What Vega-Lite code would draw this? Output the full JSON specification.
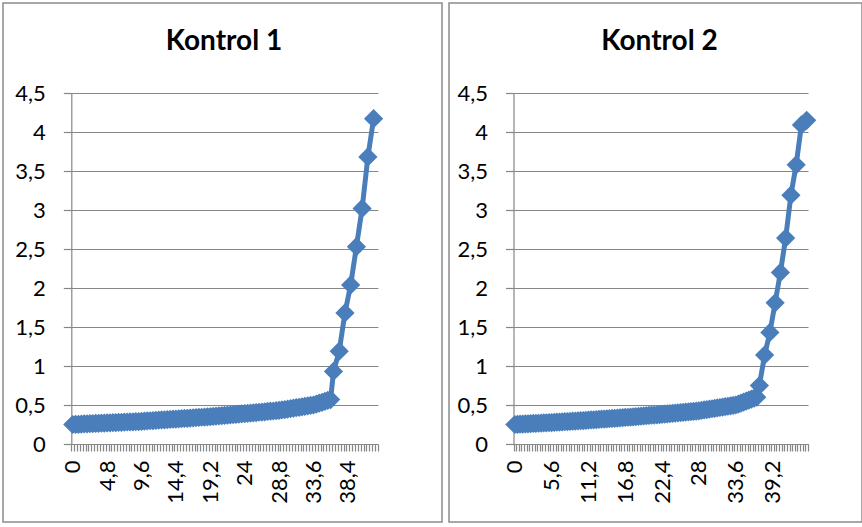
{
  "$schema": "https://vega.github.io/schema/vega-lite/v6.json",
  "background": "white",
  "padding": {"left": 2, "top": 2, "right": 0, "bottom": 0},
  "autosize": {"type": "pad"},
  "spacing": 5,
  "datasets": {
    "k1": [
      {"t":0,"v":0.25},{"t":0.4,"v":0.252},{"t":0.8,"v":0.253},{"t":1.2,"v":0.255},{"t":1.6,"v":0.257},{"t":2,"v":0.258},{"t":2.4,"v":0.26},{"t":2.8,"v":0.262},{"t":3.2,"v":0.263},{"t":3.6,"v":0.265},{"t":4,"v":0.267},{"t":4.4,"v":0.268},{"t":4.8,"v":0.27},
      {"t":5.2,"v":0.272},{"t":5.6,"v":0.273},{"t":6,"v":0.275},{"t":6.4,"v":0.277},{"t":6.8,"v":0.278},{"t":7.2,"v":0.28},{"t":7.6,"v":0.282},{"t":8,"v":0.283},{"t":8.4,"v":0.285},{"t":8.8,"v":0.287},{"t":9.2,"v":0.288},{"t":9.6,"v":0.29},
      {"t":10,"v":0.293},{"t":10.4,"v":0.295},{"t":10.8,"v":0.298},{"t":11.2,"v":0.3},{"t":11.6,"v":0.303},{"t":12,"v":0.305},{"t":12.4,"v":0.308},{"t":12.8,"v":0.31},{"t":13.2,"v":0.313},{"t":13.6,"v":0.315},{"t":14,"v":0.318},{"t":14.4,"v":0.32},
      {"t":14.8,"v":0.323},{"t":15.2,"v":0.325},{"t":15.6,"v":0.328},{"t":16,"v":0.33},{"t":16.4,"v":0.333},{"t":16.8,"v":0.335},{"t":17.2,"v":0.338},{"t":17.6,"v":0.34},{"t":18,"v":0.343},{"t":18.4,"v":0.345},{"t":18.8,"v":0.348},{"t":19.2,"v":0.35},
      {"t":19.6,"v":0.353},{"t":20,"v":0.357},{"t":20.4,"v":0.36},{"t":20.8,"v":0.363},{"t":21.2,"v":0.367},{"t":21.6,"v":0.37},{"t":22,"v":0.373},{"t":22.4,"v":0.377},{"t":22.8,"v":0.38},{"t":23.2,"v":0.383},{"t":23.6,"v":0.387},{"t":24,"v":0.39},
      {"t":24.4,"v":0.393},{"t":24.8,"v":0.397},{"t":25.2,"v":0.4},{"t":25.6,"v":0.403},{"t":26,"v":0.407},{"t":26.4,"v":0.41},{"t":26.8,"v":0.413},{"t":27.2,"v":0.417},{"t":27.6,"v":0.42},{"t":28,"v":0.423},{"t":28.4,"v":0.427},{"t":28.8,"v":0.43},
      {"t":29.2,"v":0.436},{"t":29.6,"v":0.442},{"t":30,"v":0.447},{"t":30.4,"v":0.453},{"t":30.8,"v":0.459},{"t":31.2,"v":0.465},{"t":31.6,"v":0.471},{"t":32,"v":0.477},{"t":32.4,"v":0.483},{"t":32.8,"v":0.488},{"t":33.2,"v":0.494},{"t":33.6,"v":0.5},
      {"t":34,"v":0.512},{"t":34.4,"v":0.523},{"t":34.8,"v":0.535},{"t":35.2,"v":0.547},{"t":35.6,"v":0.558},{"t":36,"v":0.57},
      {"t":36.4,"v":0.93},{"t":37.2,"v":1.19},{"t":38,"v":1.68},{"t":38.8,"v":2.04},{"t":39.6,"v":2.53},{"t":40.4,"v":3.02},{"t":41.2,"v":3.68},{"t":42,"v":4.17}
    ],
    "k2": [
      {"t":0,"v":0.25},{"t":0.4,"v":0.252},{"t":0.8,"v":0.254},{"t":1.2,"v":0.255},{"t":1.6,"v":0.257},{"t":2,"v":0.259},{"t":2.4,"v":0.261},{"t":2.8,"v":0.263},{"t":3.2,"v":0.264},{"t":3.6,"v":0.266},{"t":4,"v":0.268},{"t":4.4,"v":0.27},{"t":4.8,"v":0.271},{"t":5.2,"v":0.273},{"t":5.6,"v":0.275},
      {"t":6,"v":0.277},{"t":6.4,"v":0.279},{"t":6.8,"v":0.281},{"t":7.2,"v":0.284},{"t":7.6,"v":0.286},{"t":8,"v":0.288},{"t":8.4,"v":0.29},{"t":8.8,"v":0.292},{"t":9.2,"v":0.294},{"t":9.6,"v":0.296},{"t":10,"v":0.299},{"t":10.4,"v":0.301},{"t":10.8,"v":0.303},{"t":11.2,"v":0.305},
      {"t":11.6,"v":0.308},{"t":12,"v":0.31},{"t":12.4,"v":0.313},{"t":12.8,"v":0.315},{"t":13.2,"v":0.318},{"t":13.6,"v":0.32},{"t":14,"v":0.323},{"t":14.4,"v":0.325},{"t":14.8,"v":0.328},{"t":15.2,"v":0.33},{"t":15.6,"v":0.333},{"t":16,"v":0.335},{"t":16.4,"v":0.338},{"t":16.8,"v":0.34},
      {"t":17.2,"v":0.343},{"t":17.6,"v":0.346},{"t":18,"v":0.349},{"t":18.4,"v":0.351},{"t":18.8,"v":0.354},{"t":19.2,"v":0.357},{"t":19.6,"v":0.36},{"t":20,"v":0.363},{"t":20.4,"v":0.366},{"t":20.8,"v":0.369},{"t":21.2,"v":0.371},{"t":21.6,"v":0.374},{"t":22,"v":0.377},{"t":22.4,"v":0.38},
      {"t":22.8,"v":0.383},{"t":23.2,"v":0.386},{"t":23.6,"v":0.39},{"t":24,"v":0.393},{"t":24.4,"v":0.396},{"t":24.8,"v":0.399},{"t":25.2,"v":0.403},{"t":25.6,"v":0.406},{"t":26,"v":0.409},{"t":26.4,"v":0.412},{"t":26.8,"v":0.415},{"t":27.2,"v":0.419},{"t":27.6,"v":0.422},{"t":28,"v":0.425},
      {"t":28.4,"v":0.43},{"t":28.8,"v":0.436},{"t":29.2,"v":0.441},{"t":29.6,"v":0.446},{"t":30,"v":0.452},{"t":30.4,"v":0.457},{"t":30.8,"v":0.463},{"t":31.2,"v":0.468},{"t":31.6,"v":0.473},{"t":32,"v":0.479},{"t":32.4,"v":0.484},{"t":32.8,"v":0.489},{"t":33.2,"v":0.495},{"t":33.6,"v":0.5},
      {"t":34,"v":0.512},{"t":34.4,"v":0.525},{"t":34.8,"v":0.537},{"t":35.2,"v":0.55},{"t":35.6,"v":0.562},{"t":36,"v":0.575},{"t":36.4,"v":0.587},{"t":36.8,"v":0.6},
      {"t":37.2,"v":0.75},{"t":38,"v":1.14},{"t":38.8,"v":1.43},{"t":39.6,"v":1.81},{"t":40.4,"v":2.2},{"t":41.2,"v":2.64},{"t":42,"v":3.19},{"t":42.8,"v":3.58},{"t":43.6,"v":4.09},{"t":44.4,"v":4.15}
    ]
  },
  "config": {
    "font": "Lato",
    "view": {"stroke": "#8c8c8c", "strokeWidth": 1.5},
    "title": {"font": "Lato", "fontSize": 28, "fontWeight": "bold", "color": "black", "anchor": "middle", "baseline": "alphabetic", "frame": "group"},
    "axis": {
      "labelFont": "Lato", "labelFontSize": 22, "labelColor": "black",
      "domainColor": "#868686", "tickColor": "#868686", "gridColor": "#868686",
      "domainWidth": 1.2, "tickWidth": 1.2, "gridWidth": 1.2,
      "labelOverlap": false, "labelFlush": false, "labelBound": false, "title": null
    }
  },
  "hconcat": [
    {
      "width": 439,
      "height": 519,
      "title": {"text": "Kontrol 1", "offset": -53, "dx": 1.5},
      "data": {"name": "k1"},
      "mark": {"type": "line", "color": "#4A7EBB", "strokeWidth": 5, "point": {"shape": "diamond", "size": 370, "filled": true, "color": "#4A7EBB", "opacity": 1}},
      "encoding": {
        "x": {
          "field": "t", "type": "quantitative",
          "scale": {"domain": [-0.2, 42.6], "range": [68.3, 374.9], "nice": false, "zero": false},
          "axis": {
            "orient": "bottom", "offset": -78, "grid": false, "tickSize": 7, "labelPadding": 9,
            "labelAngle": -90, "labelAlign": "right", "labelBaseline": "middle", "labelOffset": 1.43,
            "values": [-0.2,0.2,0.6,1,1.4,1.8,2.2,2.6,3,3.4,3.8,4.2,4.6,5,5.4,5.8,6.2,6.6,7,7.4,7.8,8.2,8.6,9,9.4,9.8,10.2,10.6,11,11.4,11.8,12.2,12.6,13,13.4,13.8,14.2,14.6,15,15.4,15.8,16.2,16.6,17,17.4,17.8,18.2,18.6,19,19.4,19.8,20.2,20.6,21,21.4,21.8,22.2,22.6,23,23.4,23.8,24.2,24.6,25,25.4,25.8,26.2,26.6,27,27.4,27.8,28.2,28.6,29,29.4,29.8,30.2,30.6,31,31.4,31.8,32.2,32.6,33,33.4,33.8,34.2,34.6,35,35.4,35.8,36.2,36.6,37,37.4,37.8,38.2,38.6,39,39.4,39.8,40.2,40.6,41,41.4,41.8,42.2,42.6],
            "labelExpr": "(round((datum.value + 0.2) * 10) % 48 == 0 && datum.value < 42) ? replace(format(round((datum.value + 0.2) * 10) / 10, '~g'), '.', ',') : ''"
          }
        },
        "y": {
          "field": "v", "type": "quantitative",
          "scale": {"domain": [0, 4.5], "range": [441, 90], "nice": false, "zero": false},
          "axis": {
            "orient": "left", "offset": -68.3, "grid": true, "tickSize": 8, "labelPadding": 18,
            "values": [0, 0.5, 1, 1.5, 2, 2.5, 3, 3.5, 4, 4.5],
            "labelExpr": "replace(format(datum.value, '~g'), '.', ',')"
          }
        }
      }
    },
    {
      "width": 413,
      "height": 519,
      "title": {"text": "Kontrol 2", "offset": -53, "dx": 4},
      "data": {"name": "k2"},
      "mark": {"type": "line", "color": "#4A7EBB", "strokeWidth": 5, "point": {"shape": "diamond", "size": 370, "filled": true, "color": "#4A7EBB", "opacity": 1}},
      "encoding": {
        "x": {
          "field": "t", "type": "quantitative",
          "scale": {"domain": [-0.2, 44.6], "range": [64.5, 359.0], "nice": false, "zero": false},
          "axis": {
            "orient": "bottom", "offset": -78, "grid": false, "tickSize": 7, "labelPadding": 9,
            "labelAngle": -90, "labelAlign": "right", "labelBaseline": "middle", "labelOffset": 1.31,
            "values": [-0.2,0.2,0.6,1,1.4,1.8,2.2,2.6,3,3.4,3.8,4.2,4.6,5,5.4,5.8,6.2,6.6,7,7.4,7.8,8.2,8.6,9,9.4,9.8,10.2,10.6,11,11.4,11.8,12.2,12.6,13,13.4,13.8,14.2,14.6,15,15.4,15.8,16.2,16.6,17,17.4,17.8,18.2,18.6,19,19.4,19.8,20.2,20.6,21,21.4,21.8,22.2,22.6,23,23.4,23.8,24.2,24.6,25,25.4,25.8,26.2,26.6,27,27.4,27.8,28.2,28.6,29,29.4,29.8,30.2,30.6,31,31.4,31.8,32.2,32.6,33,33.4,33.8,34.2,34.6,35,35.4,35.8,36.2,36.6,37,37.4,37.8,38.2,38.6,39,39.4,39.8,40.2,40.6,41,41.4,41.8,42.2,42.6,43,43.4,43.8,44.2,44.6],
            "labelExpr": "(round((datum.value + 0.2) * 10) % 56 == 0 && datum.value < 44) ? replace(format(round((datum.value + 0.2) * 10) / 10, '~g'), '.', ',') : ''"
          }
        },
        "y": {
          "field": "v", "type": "quantitative",
          "scale": {"domain": [0, 4.5], "range": [441, 90], "nice": false, "zero": false},
          "axis": {
            "orient": "left", "offset": -64.5, "grid": true, "tickSize": 8, "labelPadding": 18,
            "values": [0, 0.5, 1, 1.5, 2, 2.5, 3, 3.5, 4, 4.5],
            "labelExpr": "replace(format(datum.value, '~g'), '.', ',')"
          }
        }
      }
    }
  ]
}
